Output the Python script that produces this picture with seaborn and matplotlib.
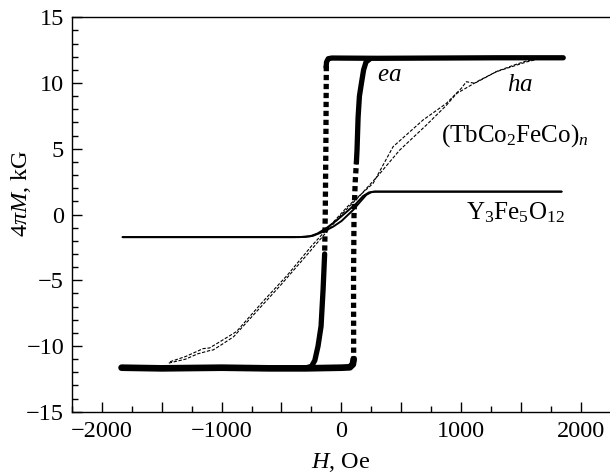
import numpy as np
import pandas as pd
import matplotlib
matplotlib.use("Agg")
import matplotlib.pyplot as plt
from matplotlib.ticker import MultipleLocator, FuncFormatter
import seaborn as sns

# ---------------- data ----------------
# ea loop, thick solid parts
ea_top_H = [-128, -124, -110, -80, 300, 800, 1300, 1850]
ea_top_M = [11.2, 11.6, 11.85, 11.9, 11.88, 11.9, 11.92, 11.92]
ea_bot_H = [-1834, -1500, -1000, -600, -300, 0, 70, 95, 102]
ea_bot_M = [-11.65, -11.7, -11.65, -11.7, -11.7, -11.65, -11.62, -11.4, -11.0]
ea_up_H = [125, 130, 139, 150, 167, 185, 205, 240]
ea_up_M = [4.0, 4.9, 7.4, 9.0, 10.0, 11.0, 11.6, 11.85]
ea_dn_H = [-140, -153, -170, -195, -222, -250, -290]
ea_dn_M = [-3.0, -5.7, -8.5, -10.0, -11.1, -11.55, -11.65]
# ea loop, thick dotted parts
ea_dl_H = [-126, -130, -135, -140]
ea_dl_M = [11.3, 5.0, 0.0, -3.0]
ea_dr_H = [102, 101, 105, 115, 125]
ea_dr_M = [-11.2, -5.0, 0.0, 2.5, 4.0]

# ha loop (thin dashed), two branches
ha1_H = [-1440, -1300, -1200, -1100, -1070, -1000, -900, -700, -500, -300,
         -150, 0, 150, 300, 486, 708, 875, 960, 1150, 1300, 1450, 1550, 1650]
ha1_M = [-11.3, -11.0, -10.6, -10.35, -10.3, -9.9, -9.3, -7.3, -5.3, -3.2,
         -1.6, 0.0, 1.4, 2.9, 4.9, 6.8, 8.3, 9.2, 10.2, 10.9, 11.4, 11.7, 11.85]
ha2_H = [-1430, -1300, -1153, -1100, -1000, -875, -653, -450, -250, -100,
         50, 264, 431, 681, 875, 1000, 1042, 1111, 1292, 1542, 1653]
ha2_M = [-11.2, -10.8, -10.2, -10.15, -9.6, -8.9, -6.6, -4.6, -2.4, -0.9,
         0.6, 2.37, 5.16, 7.19, 8.45, 9.6, 10.1, 9.98, 10.86, 11.6, 11.85]

# Y3Fe5O12 loop (thin solid), two branches
yig1_H = [-1825, -400, -300, -238, -150, -70, 0, 97, 150, 208, 250, 280, 1836]
yig1_M = [-1.72, -1.72, -1.70, -1.62, -1.30, -0.93, -0.50, 0.34, 0.90, 1.50, 1.70, 1.74, 1.74]
yig2_H = [-1825, -350, -260, -200, -120, -40, 30, 125, 180, 230, 270, 1836]
yig2_M = [-1.72, -1.72, -1.65, -1.45, -1.00, -0.45, 0.10, 0.85, 1.40, 1.68, 1.74, 1.74]

x_ticks = [-2000, -1000, 0, 1000, 2000]
y_ticks = [-15, -10, -5, 0, 5, 10, 15]

# ---------------- style ----------------
sns.set_theme(style="ticks")
plt.rcParams["font.family"] = ["Liberation Serif", "DejaVu Serif"]
plt.rcParams["mathtext.fontset"] = "custom"
plt.rcParams["mathtext.rm"] = "Liberation Serif"
plt.rcParams["mathtext.it"] = "Liberation Serif:italic"
plt.rcParams["mathtext.bf"] = "Liberation Serif:bold"

FS = 17.5

fig = plt.figure(figsize=(6.1, 4.76), dpi=100)
ax = fig.add_axes([0.1175, 0.135, 0.8825, 0.8287])

def draw(H, M, **kw):
    df = pd.DataFrame({"H": H, "M": M})
    sns.lineplot(data=df, x="H", y="M", sort=False, estimator=None,
                 color="black", ax=ax, **kw)

thick = 3.8
draw(ea_top_H, ea_top_M, linewidth=thick, solid_capstyle="round", solid_joinstyle="round")
draw(ea_bot_H, ea_bot_M, linewidth=thick + 1.0, solid_capstyle="round", solid_joinstyle="round")
draw(ea_up_H, ea_up_M, linewidth=thick, solid_joinstyle="round")
draw(ea_dn_H, ea_dn_M, linewidth=thick, solid_joinstyle="round")
draw(ea_dl_H, ea_dl_M, linewidth=thick, linestyle=(0, (1, 0.7)), dash_capstyle="butt")
draw(ea_dr_H, ea_dr_M, linewidth=thick, linestyle=(0, (1, 0.7)), dash_capstyle="butt")

draw(ha1_H, ha1_M, linewidth=0.8, linestyle=(0, (3, 1.5)))
draw(ha2_H, ha2_M, linewidth=0.8, linestyle=(0, (3, 1.5)))

draw(yig1_H, yig1_M, linewidth=1.4)
draw(yig2_H, yig2_M, linewidth=1.4)

# ---------------- axes ----------------
ax.set_xlim(-2250, 2240)
ax.set_ylim(-15, 15)
ax.xaxis.set_major_locator(MultipleLocator(500))
ax.xaxis.set_minor_locator(MultipleLocator(250))
ax.xaxis.set_major_formatter(FuncFormatter(
    lambda v, p: (f"{int(round(v))}".replace("-", "\u2212") if int(round(v)) in x_ticks else "")))
ax.set_yticks(y_ticks)
ax.yaxis.set_minor_locator(MultipleLocator(1))
ax.tick_params(which="both", direction="in", labelsize=FS, color="black",
               labelcolor="black", top=False, right=False)
ax.tick_params(which="major", length=7, width=1)
ax.tick_params(which="minor", length=4.5, width=1)
ax.tick_params(axis="x", pad=7)
ax.tick_params(axis="y", pad=5.5)
for s in ["left", "bottom", "top"]:
    ax.spines[s].set_color("black")
    ax.spines[s].set_linewidth(1.0)
ax.spines["right"].set_visible(False)

ax.set_xlabel("$H$, Oe", fontsize=FS, color="black")
ax.set_ylabel("4$\\pi M$, kG", fontsize=FS, color="black")
ax.xaxis.set_label_coords(0.5, -0.10)
ax.yaxis.set_label_coords(-0.072, 0.555)

ax.text(400, 10.6, "$ea$", fontsize=FS + 0.5, ha="center", va="center", color="black")
ax.text(1490, 9.85, "$ha$", fontsize=FS + 0.5, ha="center", va="center", color="black")
ax.text(1450, 6.0, "(TbCo$_2$FeCo)$_n$", fontsize=FS + 0.5, ha="center", va="center", color="black")
ax.text(1450, 0.1, "Y$_3$Fe$_5$O$_{12}$", fontsize=FS + 0.5, ha="center", va="center", color="black")

fig.savefig("out.png", dpi=100)
